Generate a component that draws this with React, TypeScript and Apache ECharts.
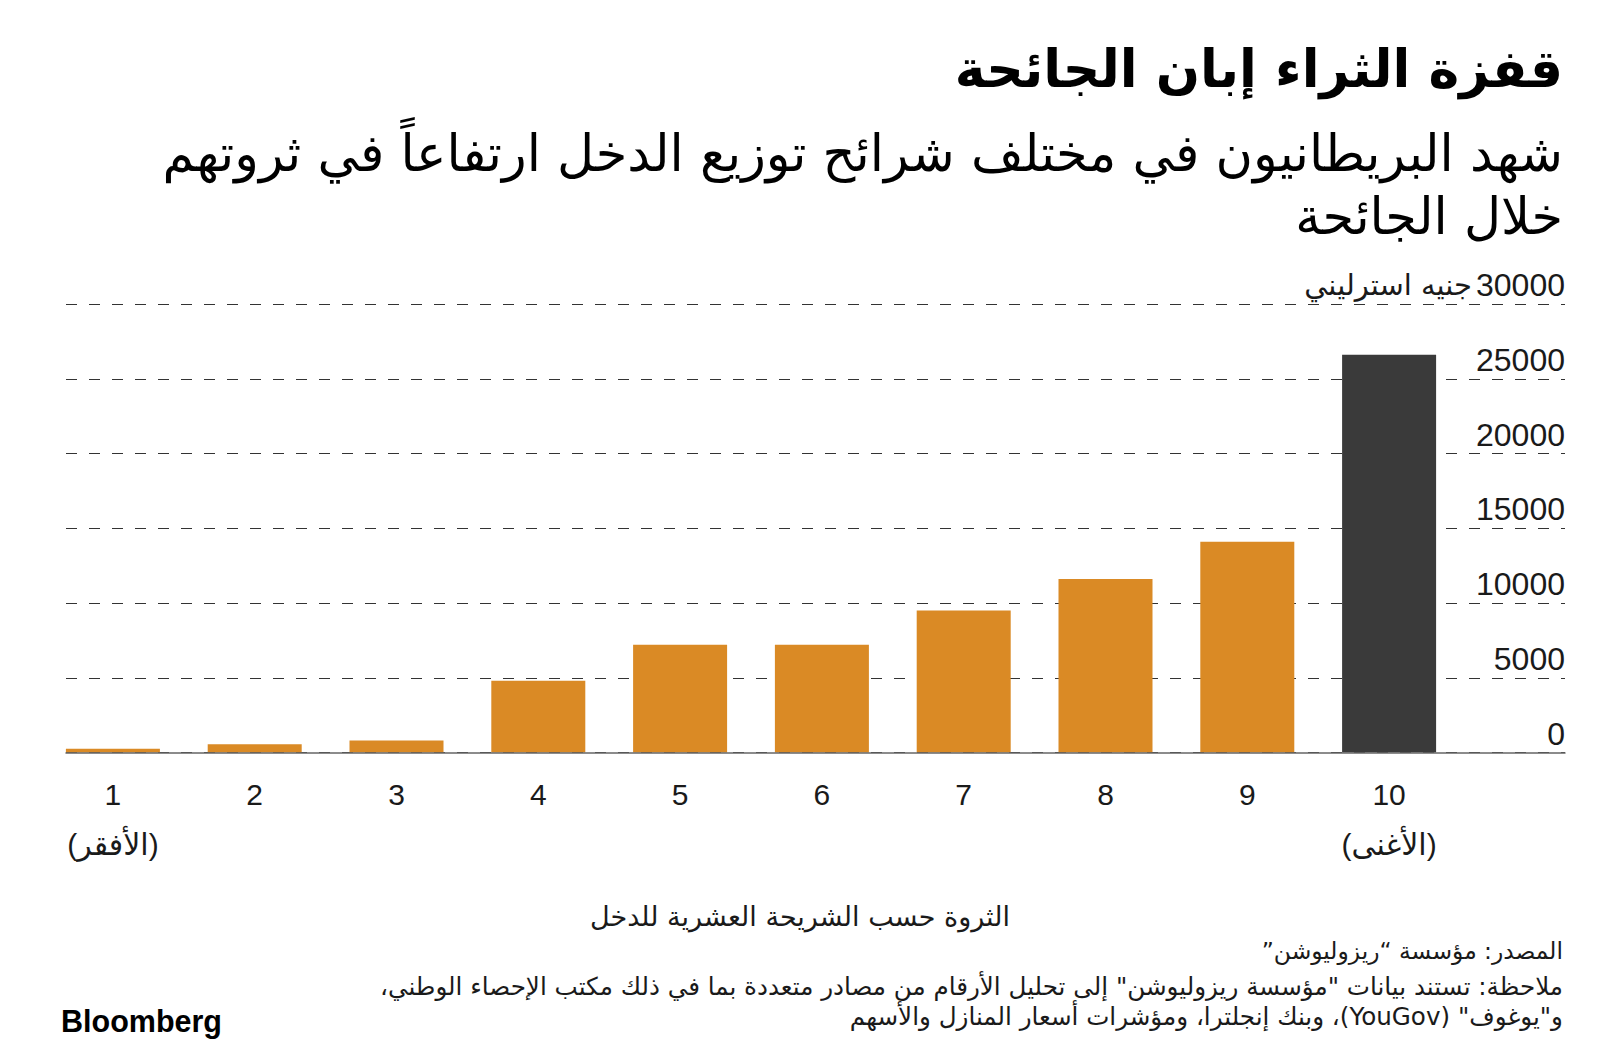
import React, { useEffect, useRef } from "react";
import * as echarts from "echarts";

// ---- data ----
const categories: string[] = ["1", "2", "3", "4", "5", "6", "7", "8", "9", "10"];
const wealthGain: number[] = [250, 550, 800, 4800, 7200, 7200, 9500, 11600, 14100, 26600];
const highlightIndex = 9;
const extremeLabels: Record<number, string> = { 0: "(الأفقر)", 9: "(الأغنى)" };
const yMin = 0;
const yMax = 30000;
const yStep = 5000;
const unitLabel = "جنيه استرليني";

const titleText = "قفزة الثراء إبان الجائحة";
const subtitleLines = [
  "شهد البريطانيون في مختلف شرائح توزيع الدخل ارتفاعاً في ثروتهم",
  "خلال الجائحة",
];
const xAxisTitle = "الثروة حسب الشريحة العشرية للدخل";
const sourceText = "المصدر: مؤسسة “ريزوليوشن”";
const noteLines = [
  "ملاحظة: تستند بيانات \"مؤسسة ريزوليوشن\" إلى تحليل الأرقام من مصادر متعددة بما في ذلك مكتب الإحصاء الوطني،",
  "و\"يوغوف\" (YouGov)، وبنك إنجلترا، ومؤشرات أسعار المنازل والأسهم",
];

const RLE = "\u202B";
const PDF = "\u202C";
const rtl = (s: string) => RLE + s + PDF;

const ORANGE = "#DA8A25";
const DARK = "#3A3A3A";
const AR_FONT = '"DejaVu Sans", sans-serif';
const NUM_FONT = '"Liberation Sans", Arial, "DejaVu Sans", sans-serif';

export default function App() {
  const ref = useRef<HTMLDivElement>(null);

  useEffect(() => {
    if (!ref.current) return;
    const chart = echarts.init(ref.current, undefined, { renderer: "svg" });

    const plotTop = 304;
    const plotHeight = 448.5;

    const barData = wealthGain.map((v, i) => ({
      value: v,
      itemStyle: { color: i === highlightIndex ? DARK : ORANGE },
    }));

    const option: any = {
      animation: false,
      backgroundColor: "#ffffff",
      grid: [
        { left: 42, width: 1418, top: plotTop, height: plotHeight },
        { left: 66, width: 1499, top: plotTop, height: plotHeight },
      ],
      xAxis: [
        {
          gridIndex: 0,
          type: "category",
          data: categories,
          axisLine: { show: false },
          axisTick: { show: false },
          splitLine: { show: false },
          axisLabel: {
            margin: 17,
            color: "#1a1a1a",
            fontFamily: NUM_FONT,
            fontSize: 30,
            lineHeight: 50,
            interval: 0,
            formatter: (v: string, i: number) =>
              extremeLabels[i] ? v + "\n" + rtl(extremeLabels[i]) : v,
          },
        },
        {
          gridIndex: 1,
          type: "value",
          min: 0,
          max: 1,
          z: 10,
          axisLine: { show: true, lineStyle: { color: "#666666", width: 1.5 } },
          axisTick: { show: false },
          axisLabel: { show: false },
          splitLine: { show: false },
        },
      ],
      yAxis: [
        { gridIndex: 0, type: "value", min: yMin, max: yMax, show: false },
        {
          gridIndex: 1,
          type: "value",
          min: yMin,
          max: yMax,
          interval: yStep,
          position: "right",
          axisLine: { show: false },
          axisTick: { show: false },
          splitLine: {
            show: true,
            lineStyle: { color: "#333333", width: 1, type: [11, 12] },
          },
          axisLabel: {
            inside: true,
            margin: 0,
            align: "right",
            verticalAlign: "bottom",
            padding: [0, 0, 3, 0],
            color: "#1a1a1a",
            fontFamily: NUM_FONT,
            fontSize: 32,
            formatter: (v: number) =>
              v === yMax ? `{u|${unitLabel}}{n|${v}}` : `{n|${v}}`,
            rich: {
              n: { fontFamily: NUM_FONT, fontSize: 32, color: "#1a1a1a" },
              u: { fontFamily: AR_FONT, fontSize: 29, color: "#1a1a1a", padding: [0, 4, 0, 0] },
            },
          },
        },
      ],
      series: [
        {
          type: "bar",
          xAxisIndex: 0,
          yAxisIndex: 0,
          barWidth: 94,
          data: barData,
        },
      ],
      graphic: [
        {
          type: "text",
          x: 1563,
          y: 69,
          style: {
            text: rtl(titleText),
            font: `bold 52px ${AR_FONT}`,
            fill: "#000",
            textAlign: "right",
            textVerticalAlign: "middle",
          },
        },
        ...subtitleLines.map((t, i) => ({
          type: "text",
          x: 1563,
          y: 153 + i * 63,
          style: {
            text: rtl(t),
            font: `51px ${AR_FONT}`,
            fill: "#000",
            textAlign: "right",
            textVerticalAlign: "middle",
          },
        })),
        {
          type: "text",
          x: 800,
          y: 916,
          style: {
            text: rtl(xAxisTitle),
            font: `27px ${AR_FONT}`,
            fill: "#1a1a1a",
            textAlign: "center",
            textVerticalAlign: "middle",
          },
        },
        {
          type: "text",
          x: 1563,
          y: 951,
          style: {
            text: rtl(sourceText),
            font: `23.4px ${AR_FONT}`,
            fill: "#1a1a1a",
            textAlign: "right",
            textVerticalAlign: "middle",
          },
        },
        ...noteLines.map((t, i) => ({
          type: "text",
          x: 1563,
          y: 986 + i * 30,
          style: {
            text: rtl(t),
            font: `24.6px ${AR_FONT}`,
            fill: "#1a1a1a",
            textAlign: "right",
            textVerticalAlign: "middle",
          },
        })),
        {
          type: "text",
          x: 61,
          y: 1021,
          style: {
            text: "Bloomberg",
            font: `bold 30.5px "Liberation Sans", Arial, sans-serif`,
            fill: "#000",
            textAlign: "left",
            textVerticalAlign: "middle",
          },
        },
      ],
    };

    chart.setOption(option);
    return () => chart.dispose();
  }, []);

  return (
    <div
      ref={ref}
      style={{ position: "absolute", left: 0, top: 0, width: 1600, height: 1057, background: "#fff" }}
    />
  );
}
